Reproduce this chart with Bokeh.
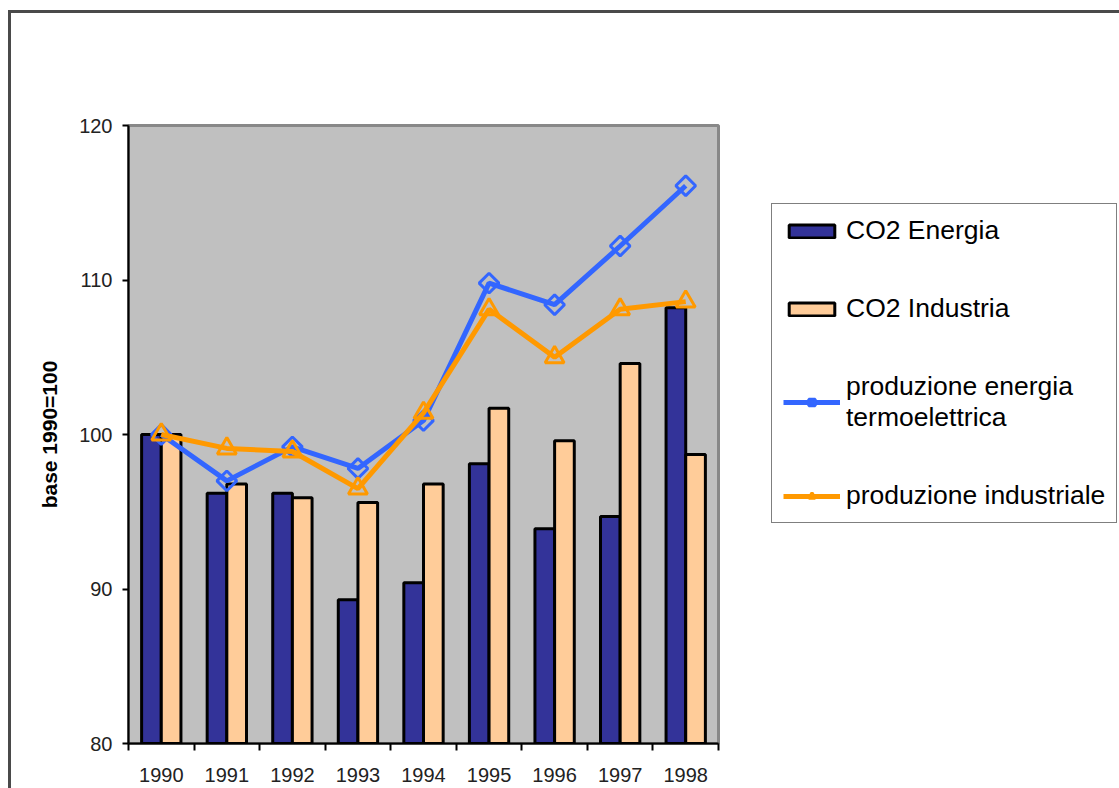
from bokeh.plotting import figure
from bokeh.models import (Range1d, LinearAxis, FixedTicker, Legend, LegendItem,
                          ColumnDataSource)
from bokeh.layouts import row
from bokeh.transform import dodge
from bokeh.embed import file_html
from bokeh.resources import INLINE

# ---- data ----
years = ["1990", "1991", "1992", "1993", "1994", "1995", "1996", "1997", "1998"]
co2_energia = [100.0, 96.2, 96.2, 89.3, 90.4, 98.1, 93.9, 94.7, 108.2]
co2_industria = [100.0, 96.8, 95.9, 95.6, 96.8, 101.7, 99.6, 104.6, 98.7]
prod_energia_termo = [100.0, 97.0, 99.2, 97.8, 100.9, 109.8, 108.4, 112.2, 116.1]
prod_industriale = [100.0, 99.1, 98.9, 96.5, 101.4, 108.1, 105.0, 108.1, 108.6]
y_ticks = [80, 90, 100, 110, 120]
labels = ["CO2 Energia", "CO2 Industria", "produzione energia\ntermoelettrica",
          "produzione industriale"]

FONT = "Liberation Sans"
OX, OY = 11, 13   # offset of the canvases inside the page (outer chart frame)
W_CHART = 759
H = 788 - OY

# styles of the four series
BAR1 = dict(fill_color="#333399", line_color="black", line_width=3)
BAR2 = dict(fill_color="#FFCC99", line_color="black", line_width=3)
LINE1 = dict(line_color="#3366FF", line_width=5)
MARK1 = dict(marker="square", angle=0.785398, size=14, fill_color=None,
             line_color="#3366FF", line_width=3)
LINE2 = dict(line_color="#FF9900", line_width=5)
MARK2 = dict(marker="triangle", size=19, fill_color=None, line_color="#FF9900", line_width=3)

idx = list(range(len(years)))
src = ColumnDataSource(dict(x=idx, energia=co2_energia, industria=co2_industria,
                            termo=prod_energia_termo, ind=prod_industriale))

chart = figure(width=W_CHART, height=H, output_backend="svg", toolbar_location=None,
               x_range=Range1d(-0.5, len(years) - 0.5), y_range=Range1d(80, 120),
               x_axis_location=None, y_axis_location=None,
               min_border_left=128 - OX, min_border_right=W_CHART - (718 - OX),
               min_border_top=125 - OY, min_border_bottom=45,
               background_fill_color="#C0C0C0", border_fill_color="white",
               outline_line_color="#888888", outline_line_width=3)
chart.grid.visible = False

# y axis
yaxis = LinearAxis(ticker=FixedTicker(ticks=y_ticks), axis_label="base 1990=100")
yaxis.axis_line_color = "black"
yaxis.axis_line_width = 2
yaxis.major_tick_line_color = "black"
yaxis.major_tick_line_width = 2
yaxis.major_tick_out = 6
yaxis.major_tick_in = 0
yaxis.minor_tick_line_color = None
yaxis.major_label_standoff = 10
yaxis.major_label_text_font = FONT
yaxis.major_label_text_font_size = "20px"
yaxis.major_label_text_color = "#222222"
yaxis.axis_label_text_font = FONT
yaxis.axis_label_text_font_size = "21px"
yaxis.axis_label_text_font_style = "bold"
yaxis.axis_label_text_color = "black"
yaxis.axis_label_standoff = 15
chart.add_layout(yaxis, "left")

# x axis: labels at category centres, minor ticks at category boundaries
xaxis = LinearAxis(ticker=FixedTicker(ticks=idx,
                                      minor_ticks=[i - 0.5 for i in range(len(years) + 1)]),
                   major_label_overrides={i: y for i, y in zip(idx, years)})
xaxis.axis_line_color = "black"
xaxis.axis_line_width = 2
xaxis.major_tick_line_color = None
xaxis.major_tick_out = 0
xaxis.major_tick_in = 0
xaxis.minor_tick_line_color = "black"
xaxis.minor_tick_line_width = 2
xaxis.minor_tick_out = 7
xaxis.minor_tick_in = 0
xaxis.major_label_standoff = 17
xaxis.major_label_text_font = FONT
xaxis.major_label_text_font_size = "20px"
xaxis.major_label_text_color = "#222222"
chart.add_layout(xaxis, "below")

# bars
chart.vbar(x=dodge("x", -0.15, range=chart.x_range), top="energia", bottom=80, width=0.3,
           source=src, **BAR1)
chart.vbar(x=dodge("x", 0.15, range=chart.x_range), top="industria", bottom=80, width=0.3,
           source=src, **BAR2)
# lines
chart.line("x", "termo", source=src, **LINE1)
chart.scatter("x", "termo", source=src, **MARK1)
chart.line("x", "ind", source=src, **LINE2)
chart.scatter("x", "ind", source=src, **MARK2)

# ---- legend panel (own canvas to the right of the chart) ----
W_LEG = 1119 - OX - W_CHART
leg = figure(width=W_LEG, height=H, output_backend="svg", toolbar_location=None,
             x_range=Range1d(0, 1), y_range=Range1d(0, 1),
             x_axis_location=None, y_axis_location=None,
             min_border=0, outline_line_color=None,
             background_fill_color="white", border_fill_color="white")
leg.grid.visible = False
# legend-only renderers (no drawable data; they only supply the legend swatches)
NAN = float("nan")
off = dict(x=[NAN], y=[NAN])
lb1 = leg.vbar(x=[NAN], top=[NAN], bottom=[NAN], width=0.1, **BAR1)
lb2 = leg.vbar(x=[NAN], top=[NAN], bottom=[NAN], width=0.1, **BAR2)
ll1 = leg.line(**off, **LINE1)
lm1 = leg.scatter(**off, **MARK1)
ll2 = leg.line(**off, **LINE2)
lm2 = leg.scatter(**off, **MARK2)

legend = Legend(items=[LegendItem(label=labels[0], renderers=[lb1]),
                       LegendItem(label=labels[1], renderers=[lb2]),
                       LegendItem(label=labels[2], renderers=[ll1, lm1]),
                       LegendItem(label=labels[3], renderers=[ll2, lm2])],
                location=(1, 220), orientation="vertical")
legend.border_line_color = "black"
legend.border_line_width = 1.5
legend.background_fill_color = "white"
legend.padding = 11
legend.margin = 0
legend.spacing = 47
legend.glyph_width = 57
legend.glyph_height = 16
legend.label_standoff = 6
legend.label_text_font = FONT
legend.label_text_font_size = "26.5px"
legend.label_text_color = "black"
leg.add_layout(legend, "center")

p = row(chart, leg, spacing=0,
        styles={"border-top": "3px solid #4a4a4a", "border-left": "3px solid #4a4a4a",
                "margin-left": "8px", "margin-top": "10px"})

open("out.html", "w").write(file_html(p, INLINE))
